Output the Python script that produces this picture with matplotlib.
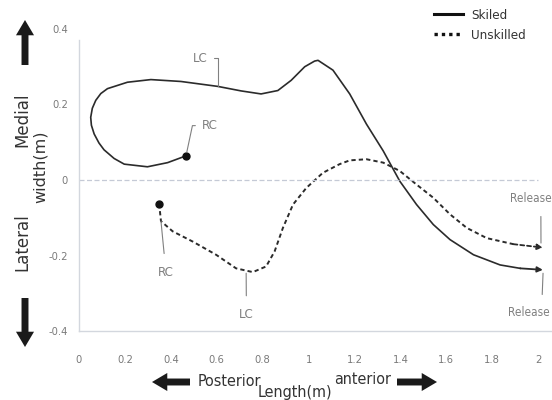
import matplotlib
matplotlib.use("Agg")
from matplotlib import pyplot as plt
from matplotlib.lines import Line2D
from matplotlib.patches import FancyArrowPatch

plt.rcParams['font.family'] = ['DejaVu Sans']
plt.rcParams['font.stretch'] = 'condensed'

# skilled trajectory (length, width) in m
skilled_x = [0.466, 0.386, 0.298, 0.197, 0.153, 0.109, 0.087, 0.066, 0.054, 0.051, 0.058,
             0.073, 0.095, 0.124, 0.211, 0.313, 0.444, 0.604, 0.706, 0.793, 0.866, 0.924,
             0.983, 1.026, 1.041, 1.106, 1.179, 1.252, 1.325, 1.361, 1.397, 1.470, 1.543,
             1.616, 1.718, 1.834, 1.921, 2.020]
skilled_y = [0.064, 0.046, 0.035, 0.042, 0.057, 0.080, 0.098, 0.122, 0.145, 0.166, 0.190,
             0.211, 0.229, 0.242, 0.259, 0.266, 0.261, 0.248, 0.236, 0.228, 0.237, 0.264,
             0.300, 0.315, 0.317, 0.291, 0.228, 0.148, 0.077, 0.037, -0.003, -0.065, -0.118,
             -0.158, -0.198, -0.225, -0.234, -0.238]

# unskilled trajectory
unskilled_x = [0.349, 0.357, 0.408, 0.495, 0.597, 0.684, 0.757, 0.815, 0.852, 0.888,
               0.932, 0.990, 1.062, 1.135, 1.179, 1.252, 1.325, 1.397, 1.470, 1.543,
               1.616, 1.689, 1.776, 1.892, 2.020]
unskilled_y = [-0.063, -0.109, -0.136, -0.163, -0.198, -0.234, -0.244, -0.229, -0.189, -0.127,
               -0.065, -0.021, 0.019, 0.042, 0.052, 0.055, 0.046, 0.024, -0.012, -0.047,
               -0.091, -0.127, -0.154, -0.170, -0.179]

xticks = [0, 0.2, 0.4, 0.6, 0.8, 1, 1.2, 1.4, 1.6, 1.8, 2]
xtick_labels = ['0', '0.2', '0.4', '0.6', '0.8', '1', '1.2', '1.4', '1.6', '1.8', '2']
yticks = [-0.4, -0.2, 0, 0.2, 0.4]
ytick_labels = ['-0.4', '-0.2', '0', '0.2', '0.4']

W, H = 552, 400
fig = plt.figure(figsize=(W / 100, H / 100), dpi=100)
ax = fig.add_axes([79 / W, 1 - 331 / H, 1 - 79 / W, (331 - 29) / H])

line_col = '#2b2b2b'
ann_col = '#808080'
dash = (0, (2.2, 1.6))

ax.plot(skilled_x[:-1], skilled_y[:-1], color=line_col, lw=1.2)
ax.plot(unskilled_x[:-1], unskilled_y[:-1], color=line_col, lw=1.4, linestyle=dash)
# start dots
ax.plot(skilled_x[0], skilled_y[0], 'o', color='#111111', ms=5)
ax.plot(unskilled_x[0], unskilled_y[0], 'o', color='#111111', ms=5)
# arrow heads at release
for xs, ys, ls in [(skilled_x, skilled_y, '-'), (unskilled_x, unskilled_y, dash)]:
    ax.annotate('', xy=(xs[-1], ys[-1]), xytext=(xs[-2], ys[-2]),
                arrowprops=dict(arrowstyle='-|>', color=line_col, lw=1.3, linestyle=ls,
                                mutation_scale=8, shrinkA=0, shrinkB=0))

ax.hlines(0, 0, 2, colors='#c5cad6', lw=0.9, linestyles=(0, (4, 2)))

ax.set_xlim(0, 2.06)
ax.set_ylim(-0.4, 0.4)
ax.set_xticks(xticks, xtick_labels)
ax.set_yticks(yticks, ytick_labels)
ax.tick_params(length=0, labelsize=8, labelcolor='#7a7a7a')
ax.tick_params(axis='x', pad=17)
ax.tick_params(axis='y', pad=8)
for s in ['top', 'right']:
    ax.spines[s].set_visible(False)
for s in ['left', 'bottom']:
    ax.spines[s].set_color('#d3d7de')
    ax.spines[s].set_linewidth(1.0)
ax.spines['left'].set_bounds(-0.4, 0.37)

# event labels
lead = dict(arrowstyle='-', color=ann_col, lw=0.8)
fs = 9.5
ax.annotate('LC', xy=(0.604, 0.248), xytext=(0.559, 0.323), ha='right', va='center',
            fontsize=fs, color=ann_col,
            arrowprops=dict(lead, relpos=(1, 0.5), shrinkA=3, shrinkB=0,
                            connectionstyle='angle,angleA=0,angleB=90,rad=0'))
ax.annotate('RC', xy=(0.466, 0.064), xytext=(0.537, 0.144), ha='left', va='center',
            fontsize=fs, color=ann_col,
            arrowprops=dict(lead, relpos=(0, 0.5), shrinkA=3, shrinkB=3,
                            connectionstyle='angle,angleA=0,angleB=78,rad=0'))
ax.annotate('RC', xy=(0.357, -0.109), xytext=(0.376, -0.245), ha='center', va='center',
            fontsize=fs, color=ann_col,
            arrowprops=dict(lead, relpos=(0.5, 1), shrinkA=7, shrinkB=0))
ax.annotate('LC', xy=(0.728, -0.247), xytext=(0.729, -0.357), ha='center', va='center',
            fontsize=fs, color=ann_col,
            arrowprops=dict(lead, relpos=(0.5, 1), shrinkA=7, shrinkB=0))
ax.annotate('Release', xy=(2.012, -0.167), xytext=(1.875, -0.050), ha='left', va='center',
            fontsize=8.5, color=ann_col,
            arrowprops=dict(lead, relpos=(0.75, 0), shrinkA=6, shrinkB=0))
ax.annotate('Release', xy=(2.021, -0.247), xytext=(1.870, -0.350), ha='left', va='center',
            fontsize=8.5, color=ann_col,
            arrowprops=dict(lead, relpos=(0.8, 1), shrinkA=6, shrinkB=0))

# legend
handles = [Line2D([], [], color='#111111', lw=2.2),
           Line2D([], [], color='#111111', lw=2.4, linestyle=(0, (1, 1.2)))]
fig.legend(handles, ['Skiled', 'Unskilled'], loc='upper left',
           bbox_to_anchor=(434 / W, 1 - 9 / H), frameon=False, fontsize=9.5,
           handlelength=2.2, handletextpad=0.6, labelspacing=0.5,
           borderpad=0, borderaxespad=0, labelcolor='#333333')

# direction labels and arrows
def px(x, y):
    return (x / W, 1 - y / H)

fig.text(*px(22, 120), 'Medial', rotation=90, ha='center', va='center',
         fontsize=12, color='#333333', fontstretch='normal')
fig.text(*px(40, 167), 'width(m)', rotation=90, ha='center', va='center',
         fontsize=11.5, color='#333333', fontstretch='normal')
fig.text(*px(22, 242), 'Lateral', rotation=90, ha='center', va='center',
         fontsize=12, color='#333333', fontstretch='normal')
fig.text(*px(229, 382), 'Posterior', ha='center', va='center', fontsize=11.5, color='#333333')
fig.text(*px(295, 392), 'Length(m)', ha='center', va='center', fontsize=11.5, color='#333333')
fig.text(*px(363, 380), 'anterior', ha='center', va='center', fontsize=11.5, color='#333333')

big = dict(arrowstyle='simple,head_length=1.1,head_width=1.3,tail_width=0.5',
           fc='#1a1a1a', ec='none', mutation_scale=10, shrinkA=0, shrinkB=0)
for tail, head in [((25, 65), (25, 20)), ((25, 298), (25, 347)),
                   ((190, 382), (152, 382)), ((397, 382), (437, 382))]:
    fig.add_artist(FancyArrowPatch(px(*tail), px(*head), transform=fig.transFigure, **big))

fig.savefig('out.png', dpi=100)
